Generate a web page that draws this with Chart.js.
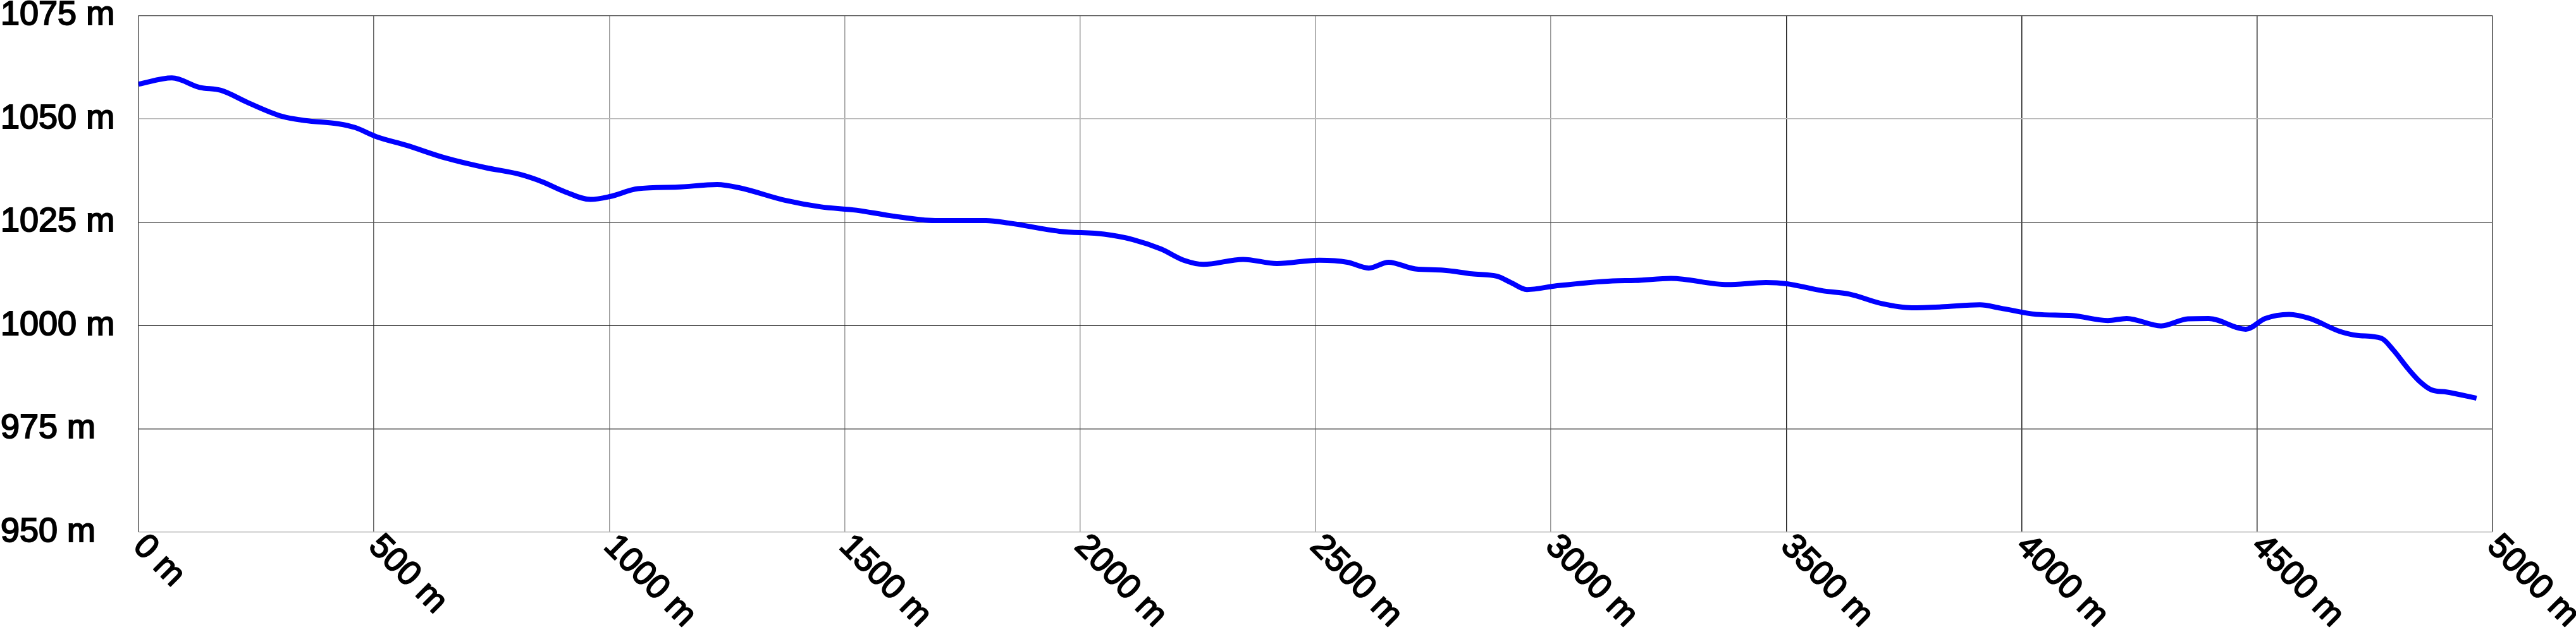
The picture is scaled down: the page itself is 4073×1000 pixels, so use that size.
<!DOCTYPE html>
<html>
<head>
<meta charset="utf-8">
<script src="https://cdn.jsdelivr.net/npm/chart.js@4.4.1/dist/chart.umd.min.js"></script>
<style>
html, body { margin: 0; padding: 0; background: #fff; }
#wrap { width: 4073px; height: 1000px; position: relative; }
</style>
</head>
<body>
<div id="wrap"><canvas id="profileChartArea"></canvas></div>
<script>
'use strict'
// distance along the track (m) and elevation (m)
var distances = [0, 71, 130, 175, 233, 305, 354, 425, 460, 505, 569, 653, 737, 809, 857, 905, 960, 1001, 1061, 1145,
    1229, 1277, 1373, 1450, 1525, 1596, 1692, 1800, 1848, 1956, 2051, 2112, 2172, 2220, 2262, 2346, 2418, 2508, 2568, 2613,
    2655, 2712, 2771, 2832, 2886, 2915, 2949, 3011, 3131, 3179, 3255, 3375, 3457, 3501, 3577, 3634, 3703, 3766, 3829, 3911,
    3955, 4031, 4107, 4183, 4223, 4296, 4353, 4397, 4476, 4517, 4568, 4612, 4675, 4713, 4764, 4789, 4821, 4846, 4871, 4902, 4966];
var elevations = [1058.4, 1059.9, 1057.6, 1056.9, 1053.9, 1050.6, 1049.6, 1048.8, 1047.9, 1045.7, 1043.6, 1040.5, 1038.2, 1036.6, 1034.8, 1032.4, 1030.5, 1031.2, 1033.1, 1033.5,
    1034.1, 1033.3, 1030.3, 1028.7, 1027.9, 1026.6, 1025.4, 1025.4, 1024.8, 1022.8, 1022.1, 1020.8, 1018.5, 1015.8, 1014.8, 1016.0, 1015.0, 1015.8, 1015.3, 1013.9,
    1015.3, 1013.7, 1013.4, 1012.5, 1011.9, 1010.4, 1008.7, 1009.6, 1010.8, 1010.9, 1011.4, 1009.9, 1010.4, 1010.1, 1008.4, 1007.6, 1005.3, 1004.3, 1004.5, 1005.0,
    1004.2, 1002.7, 1002.4, 1001.2, 1001.7, 999.9, 1001.6, 1001.7, 999.1, 1001.7, 1002.7, 1001.7, 998.6, 997.6, 996.9, 994.1, 989.5, 986.4, 984.4, 983.9, 982.4];
var distanceTicks = [0, 500, 1000, 1500, 2000, 2500, 3000, 3500, 4000, 4500, 5000];
var elevationTicks = [950, 975, 1000, 1025, 1050, 1075];

var fontFamily = '"Liberation Sans", Arial, sans-serif';
var fontSize = 54;

var points = distances.map(function (d, i) {
    return {x: d, y: elevations[i]};
});

function xGridColor(v) {
    if (v === 0) return '#555';
    if (v === 500) return '#666';
    if (v >= 3500 && v <= 4500) return '#1e1e1e';
    if (v === 5000) return '#444';
    return '#999';
}
function yGridColor(v) {
    if (v === 1000) return '#222';
    if (v === 975 || v === 1025) return '#555';
    if (v === 1075) return '#666';
    return '#bbb';
}

// rotated distance labels hanging down-right from each tick
var distanceLabels = {
    id: 'distanceLabels',
    afterDraw: function (chart) {
        var ctx = chart.ctx;
        var xScale = chart.scales.x;
        var bottom = chart.chartArea.bottom;
        ctx.save();
        ctx.font = fontSize + 'px ' + fontFamily;
        ctx.fillStyle = '#000';
        ctx.strokeStyle = '#000';
        ctx.lineWidth = 2;
        ctx.lineJoin = 'round';
        ctx.textAlign = 'left';
        ctx.textBaseline = 'middle';
        distanceTicks.forEach(function (v) {
            var px = xScale.getPixelForValue(v);
            ctx.save();
            ctx.translate(px, bottom + 14);
            ctx.rotate(Math.PI / 4);
            ctx.strokeText(v + ' m', 0, 0);
            ctx.fillText(v + ' m', 0, 0);
            ctx.restore();
        });
        ctx.restore();
    }
};

var profileChartArea = document.getElementById('profileChartArea');
var profileChart = new Chart(profileChartArea, {
    type: 'line',
    data: {
        datasets: [{
            data: points,
            borderColor: '#0000ff',
            borderWidth: 8,
            pointRadius: 0,
            fill: false,
            cubicInterpolationMode: 'monotone'
        }]
    },
    options: {
        responsive: true,
        maintainAspectRatio: false,
        animation: false,
        layout: {
            padding: {left: 1, right: 132, top: 23, bottom: 0}
        },
        plugins: {
            legend: {display: false},
            tooltip: {enabled: false}
        },
        scales: {
            x: {
                type: 'linear',
                min: 0,
                max: 5000,
                afterBuildTicks: function (scale) {
                    scale.ticks = distanceTicks.map(function (v) { return {value: v}; });
                },
                afterFit: function (scale) {
                    scale.height = 158;
                },
                ticks: {display: false},
                border: {display: false},
                grid: {
                    drawTicks: false,
                    lineWidth: 1.5,
                    color: function (c) { return xGridColor(c.tick.value); }
                }
            },
            y: {
                type: 'linear',
                min: 950,
                max: 1075,
                afterBuildTicks: function (scale) {
                    scale.ticks = elevationTicks.map(function (v) { return {value: v}; });
                },
                afterFit: function (scale) {
                    scale.width = 218;
                },
                border: {display: false},
                grid: {
                    drawTicks: false,
                    lineWidth: 1.5,
                    color: function (c) { return yGridColor(c.tick.value); }
                },
                ticks: {
                    crossAlign: 'far',
                    color: '#000',
                    textStrokeColor: '#000',
                    textStrokeWidth: 2,
                    font: {family: fontFamily, size: fontSize, lineHeight: 0.8},
                    callback: function (v) { return v + ' m'; }
                }
            }
        }
    },
    plugins: [distanceLabels]
});
</script>
</body>
</html>
